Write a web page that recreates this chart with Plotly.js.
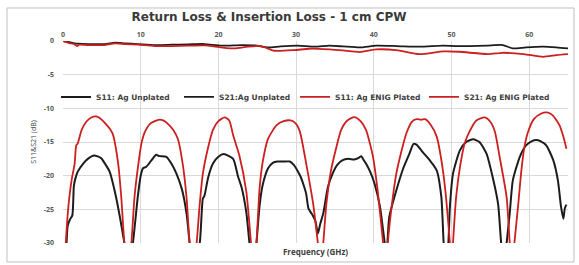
<!DOCTYPE html>
<html>
<head>
<meta charset="utf-8">
<script src="https://cdn.plot.ly/plotly-3.0.1.min.js"></script>
<style>html,body{margin:0;padding:0;background:#fff;}#chart{width:579px;height:265px;}</style>
</head>
<body>
<div id="chart"></div>
<script>
// ---- data ----
const seriesNames = ["S11: Ag Unplated", "S21:Ag Unplated", "S11: Ag ENIG Plated", "S21: Ag ENIG Plated"];

const s11AgFreq = [0.1,0.45,0.6,0.9,1.2,1.4,1.6,1.9,2.6,3.2,4.0,4.9,5.5,6.0,6.7,7.3,7.9,8.45,
  9.0,9.65,10.0,10.3,10.7,11.4,12.0,12.4,13.3,14.0,14.6,15.3,15.9,16.3,16.75,
  17.6,18.0,18.2,18.7,19.3,20.0,20.7,21.9,22.5,23.0,23.6,24.0,24.45,
  24.9,25.3,25.7,26.4,27.0,27.6,28.4,29.2,29.7,30.2,30.6,31.0,31.3,31.6,32.1,32.5,32.8,33.1,33.5,34.1,34.7,35.3,36.0,36.7,37.5,38.0,38.4,38.6,39.0,39.6,40.1,40.8,41.2,41.4,41.5,
  41.75,42.0,42.9,43.8,44.6,45.1,45.5,46.3,47.2,48.1,48.7,49.0,49.3,
  49.6,49.8,50.2,51.1,51.9,52.8,53.6,54.5,55.3,56.0,56.4,56.75,
  57.1,57.5,57.9,58.8,59.6,60.3,60.9,61.5,62.2,63.1,63.7,64.1,64.4,64.6,64.8];
const s11AgDb = [-34,-30,-27.5,-26.5,-25.9,-21.5,-20.4,-19.4,-18.2,-17.5,-17.0,-17.4,-18.4,-19.4,-22.5,-26,-30,-34,
  -30,-22.9,-20,-18.9,-18.7,-17.7,-16.9,-17.1,-17.2,-18.3,-19.7,-22,-25.6,-30,-34,
  -30,-23.4,-23.0,-20.2,-18.2,-17.2,-16.8,-17.5,-20.0,-21.8,-25.5,-30,-34,
  -30,-24.5,-21.4,-18.9,-18.1,-17.9,-17.9,-17.9,-18.4,-19.3,-20.2,-21.5,-22.7,-24.9,-25.8,-26.8,-28.6,-27.2,-25.6,-21.7,-19.7,-18.4,-17.7,-17.5,-17.6,-17.4,-17.1,-17.5,-18.2,-19.6,-21.2,-24.6,-28.1,-30,-33,
  -30,-26.1,-22.2,-18.9,-16.7,-15.3,-15.4,-16.5,-17.7,-19.2,-23.2,-30,-33,
  -30,-24.6,-19.7,-16.2,-15.0,-14.6,-15.0,-16.7,-20.2,-24.2,-30,-33,
  -30,-25.6,-20.7,-17.2,-15.5,-14.9,-14.7,-14.9,-15.5,-17.7,-20.7,-24.6,-26.4,-24.8,-24.3];

const s21AgFreq = [0,0.8,1.5,2.0,3.2,5.4,6.7,8.0,9.65,11.8,14.0,16.1,18.2,20.4,23.0,24.7,26.4,28.0,30.2,32.4,34.3,36.0,38.2,40.3,42.9,45.9,48.9,50.5,52.3,54.5,56.6,57.9,59.6,61.8,63.5,65];
const s21AgDb = [0,-0.15,-0.35,-0.4,-0.45,-0.45,-0.25,-0.35,-0.45,-0.6,-0.55,-0.5,-0.45,-0.7,-0.6,-0.65,-0.95,-0.8,-0.7,-0.85,-0.7,-0.8,-0.95,-0.7,-0.75,-0.85,-0.7,-0.75,-0.75,-0.7,-0.6,-1.1,-0.95,-0.85,-0.95,-1.1];

const s11EnigFreq = [0.1,0.35,0.65,1.1,1.5,1.7,1.9,2.4,3.0,3.6,4.2,4.8,5.5,6.0,6.4,7.1,7.5,7.9,8.35,
  8.8,9.2,9.65,10.1,10.5,11.2,12.3,12.9,13.5,14.2,14.8,15.4,15.9,16.3,16.75,
  17.2,17.6,18.0,18.7,19.3,20.0,20.8,21.4,21.9,22.7,23.6,24.2,24.55,
  24.9,25.3,25.7,26.4,27.5,28.4,29.3,30.0,30.5,31.3,32.2,32.8,33.15,
  33.5,33.9,34.5,35.2,35.8,36.6,37.5,38.3,39.0,39.9,40.5,41.2,41.5,
  41.8,42.3,42.9,43.6,44.2,44.9,45.5,46.1,46.6,47.3,48.1,48.9,49.3,49.8,50.0,
  50.2,50.6,51.1,51.7,52.3,53.2,54.3,55.0,55.6,56.2,57.1,57.5,57.8,
  58.1,58.6,59.0,59.4,59.8,60.6,61.5,62.3,63.0,63.9,64.4,64.8];
const s11EnigDb = [-34,-30,-25.1,-20.7,-18.2,-15.5,-15.2,-13.2,-12.0,-11.4,-11.2,-11.5,-12.3,-13.0,-13.8,-18.2,-23.2,-30,-34,
  -30,-23.2,-18.7,-15.2,-13.6,-12.3,-11.7,-11.8,-12.3,-13.2,-14.6,-18.2,-23.2,-30,-34,
  -30,-24.2,-19.7,-15.7,-13.2,-11.9,-11.35,-11.8,-14.0,-17.0,-22.4,-30,-34,
  -30,-21.9,-18.0,-14.5,-12.5,-11.9,-11.8,-12.3,-13.5,-18.2,-24.2,-30,-34,
  -30,-24.2,-19.2,-15.7,-13.2,-11.8,-11.3,-11.9,-13.2,-17.2,-22.2,-30,-34,
  -30,-24.6,-19.7,-16.2,-13.7,-12.0,-11.6,-11.7,-11.6,-12.4,-14.2,-19.2,-23.2,-30,-34,
  -30,-23.2,-18.7,-15.2,-13.5,-11.8,-11.35,-12.0,-13.5,-17.2,-23.2,-30,-34,
  -30,-24.2,-19.2,-15.7,-13.7,-11.6,-10.8,-10.6,-11.0,-12.5,-14.2,-16.0];

const s21EnigFreq = [0,0.8,1.5,1.8,2.1,3.2,5.4,6.7,8.0,9.65,11.8,14.0,16.1,18.2,20.4,22.1,23.8,25.5,27.2,29.8,31.7,34.3,36.0,38.2,40.3,42.9,45.9,48.9,51.0,54.7,56.6,59.3,61.8,63.5,65];
const s21EnigDb = [0,-0.3,-0.5,-0.75,-0.55,-0.6,-0.6,-0.35,-0.45,-0.55,-0.75,-0.75,-0.7,-0.65,-0.95,-1.1,-0.85,-0.75,-1.45,-1.35,-1.15,-1.25,-1.4,-1.65,-1.25,-1.35,-1.95,-1.55,-1.6,-1.95,-1.75,-1.95,-2.35,-2.1,-1.95];

const xTicks = [0,10,20,30,40,50,60];
const yTicks = [0,-5,-10,-15,-20,-25,-30];

// ---- chart ----
const BLACK = '#1c1c1c', RED = '#cc1f1f';
const FONT = 'Open Sans, Liberation Sans, sans-serif';
function tr(x, y, name, color, w, leg){
  return {x: x, y: y, name: name, type: 'scatter', mode: 'lines', legend: leg,
    line: {color: color, width: w, shape: 'spline', smoothing: 0.6}};
}
const data = [
  tr(s11AgFreq, s11AgDb, seriesNames[0], BLACK, 2, 'legend'),
  tr(s21AgFreq, s21AgDb, seriesNames[1], BLACK, 1.8, 'legend2'),
  tr(s11EnigFreq, s11EnigDb, seriesNames[2], RED, 1.8, 'legend3'),
  tr(s21EnigFreq, s21EnigDb, seriesNames[3], RED, 1.8, 'legend4')
];
const gridC = '#d9d9d9';
function leg(x){
  return {orientation: 'h', x: x, xanchor: 'left', y: 0.723, yanchor: 'middle',
    bgcolor: 'rgba(0,0,0,0)', borderwidth: 0,
    font: {family: 'DejaVu Sans, sans-serif', size: 7.5, weight: 'bold', color: '#404040'}};
}
const layout = {
  width: 579, height: 265,
  margin: {l: 63, r: 11, t: 41, b: 22},
  paper_bgcolor: '#fff', plot_bgcolor: '#fff',
  font: {family: FONT, color: '#595959', size: 7},
  title: {text: 'Return Loss & Insertion Loss - 1 cm CPW',
    font: {family: 'DejaVu Sans, sans-serif', size: 12, weight: 'bold', color: '#3a3a3a'},
    xref: 'container', x: 0.4646, xanchor: 'center', yref: 'container', y: 0.935, yanchor: 'middle'},
  xaxis: {range: [0, 65], tickvals: xTicks, showticklabels: false, showgrid: true, gridcolor: gridC, gridwidth: 1,
    zeroline: false, showline: false, ticks: '',
    title: {text: 'Frequency (GHz)', standoff: 6, font: {family: FONT, size: 8, weight: 'bold', color: '#404040'}}},
  xaxis2: {range: [0, 65], overlaying: 'x', side: 'top', anchor: 'y', tickvals: xTicks, ticktext: xTicks.map(String),
    showgrid: false, zeroline: false, showline: false, ticks: '', ticklabelstandoff: 2,
    tickfont: {family: FONT, size: 7, weight: 'bold', color: '#595959'}},
  yaxis: {range: [-30, 0], tickvals: yTicks, ticktext: yTicks.map(String), showgrid: true, gridcolor: gridC, gridwidth: 1,
    zeroline: false, showline: false, ticks: '', ticklabelstandoff: 8,
    tickfont: {family: FONT, size: 7, weight: 'bold', color: '#595959'},
    title: {text: 'S11&S21 (dB)', standoff: 6, font: {family: FONT, size: 7, color: '#404040'}}},
  showlegend: true,
  legend: leg(-0.0139),
  legend2: leg(0.2297),
  legend3: leg(0.4594),
  legend4: leg(0.7148),
  shapes: [{type: 'rect', xref: 'paper', yref: 'paper', x0: -0.1109, x1: 1.0119, y0: -0.094, y1: 1.1634,
    line: {color: '#bfbfbf', width: 1}, fillcolor: 'rgba(0,0,0,0)', layer: 'below'}]
};
// a transparent carrier so the top axis is drawn with the same scale
data.push({x: [0, 65], y: [0, 0], xaxis: 'x2', yaxis: 'y', type: 'scatter', mode: 'lines',
  line: {width: 0, color: 'rgba(0,0,0,0)'}, showlegend: false, hoverinfo: 'skip'});
Plotly.newPlot('chart', data, layout, {displayModeBar: false, staticPlot: true});
</script>
</body>
</html>
